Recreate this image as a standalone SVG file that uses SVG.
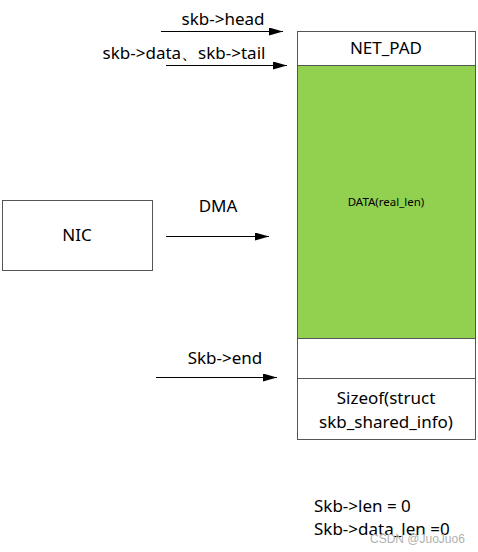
<svg xmlns="http://www.w3.org/2000/svg" width="478" height="552" viewBox="0 0 478 552">
<defs>
<marker id="ah" markerWidth="14" markerHeight="8" refX="14" refY="4" orient="auto" markerUnits="userSpaceOnUse">
<path d="M0,0 L14,4 L0,8 Z" fill="#000"/>
</marker>
<style>
.t{font-family:"Noto Sans","Liberation Sans",sans-serif;font-size:17px;fill:#000}
.box{fill:#fff;stroke:#555;stroke-width:1}
.c{stroke:#000;stroke-width:1;fill:none;marker-end:url(#ah)}
</style>
</defs>
<rect width="478" height="552" fill="#fff"/>
<g id="nic">
<rect class="box" x="2.5" y="200.5" width="150" height="70"/>
<text class="t" x="77" y="241" text-anchor="middle">NIC</text>
</g>
<g id="net_pad">
<rect class="box" x="297.5" y="31.5" width="178" height="34"/>
<text class="t" x="386" y="54" text-anchor="middle">NET_PAD</text>
</g>
<g id="data">
<rect x="297.5" y="65.5" width="178" height="273" fill="#92d050" stroke="#555"/>
<text x="386" y="206" text-anchor="middle" font-family="Noto Sans, Liberation Sans, sans-serif" font-size="11.5">DATA(real_len)</text>
</g>
<g id="tailroom">
<rect class="box" x="297.5" y="338.5" width="178" height="40"/>
</g>
<g id="shinfo">
<rect class="box" x="297.5" y="378.5" width="178" height="61"/>
<text class="t" x="386" y="404" text-anchor="middle">Sizeof(struct</text>
<text class="t" x="386" y="428" text-anchor="middle">skb_shared_info)</text>
</g>
<g id="connectors">
<line class="c" x1="161" y1="31.5" x2="283" y2="31.5"/>
<line class="c" x1="166" y1="65.5" x2="287" y2="65.5"/>
<line class="c" x1="166" y1="236.5" x2="269" y2="236.5"/>
<line class="c" x1="156" y1="377.5" x2="277" y2="377.5"/>
</g>
<g id="labels">
<text class="t" x="223" y="25" text-anchor="middle">skb-&gt;head</text>
<text class="t" x="184" y="59" text-anchor="middle">skb-&gt;data、skb-&gt;tail</text>
<text class="t" x="218" y="212" text-anchor="middle">DMA</text>
<text class="t" x="225" y="364" text-anchor="middle">Skb-&gt;end</text>
<text class="t" x="314" y="512">Skb-&gt;len = 0</text>
<text class="t" x="314" y="535">Skb-&gt;data_len =0</text>
<text x="370" y="543" font-family="Liberation Sans, sans-serif" font-size="12" fill="#b0b0b0">CSDN @JuoJuo6</text>
</g>
</svg>
